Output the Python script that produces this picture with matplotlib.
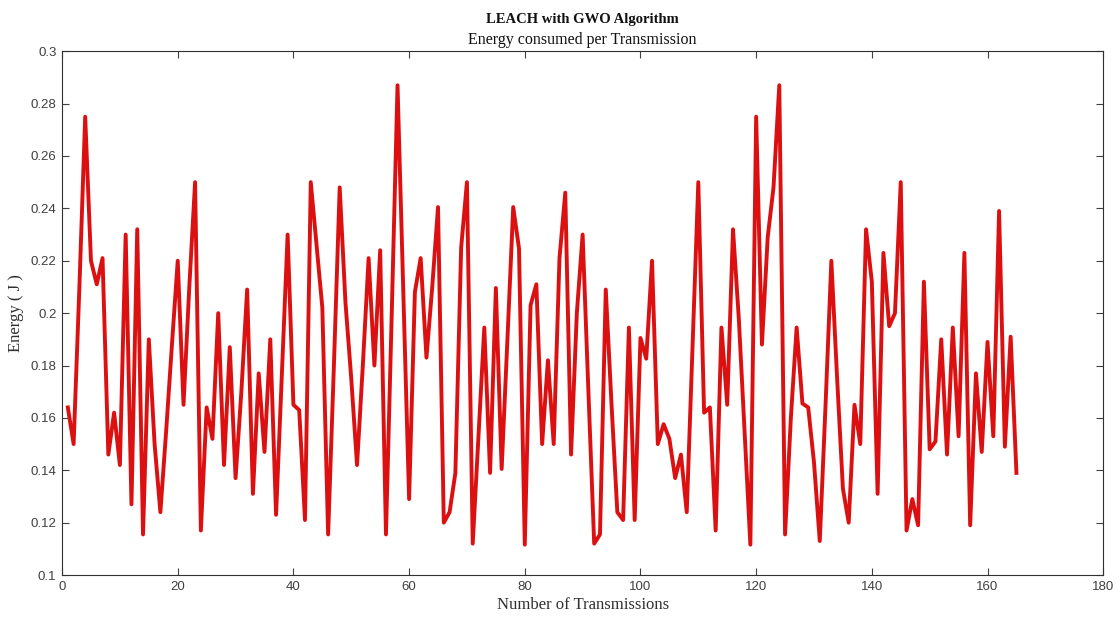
import matplotlib

matplotlib.use("Agg")
import matplotlib.pyplot as plt
from matplotlib.ticker import FormatStrFormatter, MultipleLocator

# energy per transmission (transmission 1..165)
energy = [
    0.164, 0.150, 0.210, 0.275, 0.220, 0.211, 0.221, 0.146, 0.162, 0.142,
    0.230, 0.127, 0.232, 0.1155, 0.190, 0.150, 0.124, 0.155, 0.188, 0.220,
    0.165, 0.210, 0.250, 0.117, 0.164, 0.152, 0.200, 0.142, 0.187, 0.137,
    0.170, 0.209, 0.131, 0.177, 0.147, 0.190, 0.123, 0.177, 0.230, 0.165,
    0.163, 0.121, 0.250, 0.226, 0.202, 0.1155, 0.180, 0.248, 0.204, 0.175,
    0.142, 0.180, 0.221, 0.180, 0.224, 0.1155, 0.200, 0.287, 0.208, 0.129,
    0.208, 0.221, 0.183, 0.210, 0.2405, 0.120, 0.124, 0.139, 0.225, 0.250,
    0.112, 0.153, 0.1945, 0.139, 0.2096, 0.1405, 0.190, 0.2405, 0.2247, 0.1116,
    0.203, 0.211, 0.150, 0.182, 0.150, 0.221, 0.246, 0.146, 0.200, 0.230,
    0.170, 0.112, 0.1155, 0.209, 0.165, 0.124, 0.121, 0.1945, 0.121, 0.1905,
    0.1826, 0.220, 0.150, 0.1576, 0.152, 0.137, 0.146, 0.124, 0.187, 0.250,
    0.162, 0.164, 0.117, 0.1945, 0.165, 0.232, 0.198, 0.155, 0.1116, 0.275,
    0.188, 0.229, 0.248, 0.287, 0.1155, 0.160, 0.1945, 0.1655, 0.164, 0.143,
    0.113, 0.165, 0.220, 0.175, 0.133, 0.120, 0.165, 0.150, 0.232, 0.212,
    0.131, 0.223, 0.195, 0.200, 0.250, 0.117, 0.129, 0.119, 0.212, 0.148,
    0.151, 0.190, 0.146, 0.1945, 0.153, 0.223, 0.119, 0.177, 0.147, 0.189,
    0.153, 0.239, 0.149, 0.191, 0.139,
]
transmissions = list(range(1, len(energy) + 1))

serif = ["Liberation Serif", "DejaVu Serif"]
plt.rcParams["font.family"] = ["Liberation Sans", "DejaVu Sans"]

fig = plt.figure(figsize=(11.2, 6.17), dpi=100)
ax = fig.add_axes([0.0554, 0.068, 0.9296, 0.849])

ax.plot(transmissions, energy, color="#dc1010", linewidth=2.8)

ax.set_xlim(0, 180)
ax.set_ylim(0.1, 0.3)
ax.xaxis.set_major_locator(MultipleLocator(20))
ax.yaxis.set_major_locator(MultipleLocator(0.02))
ax.yaxis.set_major_formatter(FormatStrFormatter("%g"))
ax.tick_params(direction="in", top=True, right=True, length=5, width=0.8,
               labelsize=9.5, colors="#404040", pad=4)
for s in ax.spines.values():
    s.set_color("#303030")
    s.set_linewidth(0.8)

ax.set_xlabel("Number of Transmissions", family=serif, fontsize=12, color="#303030", labelpad=3)
ax.set_ylabel("Energy ( J )", family=serif, fontsize=12, color="#303030", labelpad=5)

fig.text(0.52, 0.968, "LEACH with GWO Algorithm", family=serif, fontsize=10.5,
         fontweight="bold", ha="center", va="center", color="#111111")
fig.text(0.52, 0.935, "Energy consumed per Transmission", family=serif, fontsize=11.5,
         ha="center", va="center", color="#111111")

fig.savefig("out.png", dpi=100)
plt.close(fig)
